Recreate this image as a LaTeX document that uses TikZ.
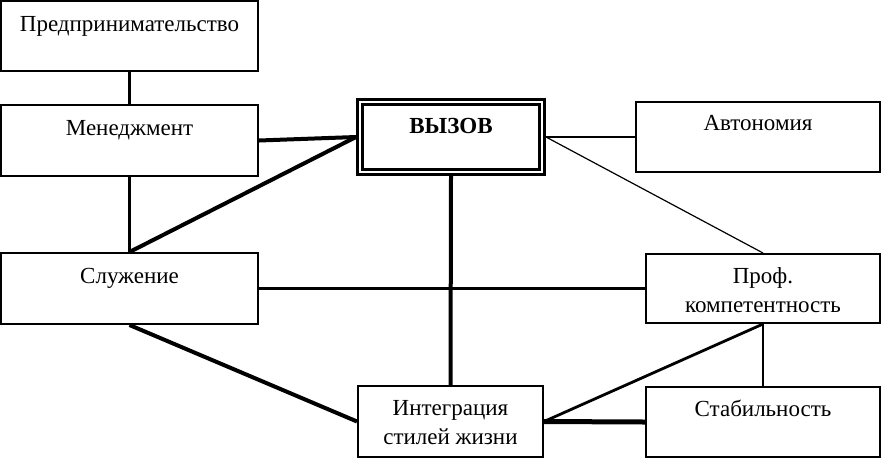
\documentclass[tikz,border=0pt]{standalone}
\usepackage{fontspec}
\setmainfont{Liberation Serif}
\begin{document}
\begin{tikzpicture}[x=1pt, y=-1pt,
        box/.style={draw, line width=2pt, inner sep=0pt, outer sep=1pt},
        txt/.style={anchor=base, inner sep=0pt, align=center},
        duenn/.style={line width=1.2pt},
        mittel/.style={line width=2.8pt},
        dick/.style={line width=4pt},
        font=\fontsize{23}{29}\selectfont]
        %Bildbereich
        \useasboundingbox (0,0) rectangle (882,459);
        % Kaesten zeichnen
        \node[box, minimum width=257, minimum height=70] (pred) at (129.5,36) {};
        \node[box, minimum width=257, minimum height=71] (men) at (129.5,140.5) {};
        \node[box, minimum width=257, minimum height=71] (slu) at (129.5,288.5) {};
        \node[box, line width=3pt, double, double distance=2pt, outer sep=4pt, minimum width=182, minimum height=70] (vyz) at (451,137) {};
        \node[box, minimum width=244, minimum height=70] (avt) at (758,137) {};
        \node[box, minimum width=234, minimum height=69] (prof) at (763,288.5) {};
        \node[box, minimum width=185, minimum height=71] (integ) at (450.5,421.5) {};
        \node[box, minimum width=234, minimum height=70] (stab) at (763,422) {};
        % Kaesten beschriften (Grundlinie der letzten Zeile)
        \node[txt] (pred-t) at (129.5,31) {Предпринимательство};
        \node[txt] (men-t) at (129.5,135) {Менеджмент};
        \node[txt] (slu-t) at (129.5,283) {Служение};
        \node[txt, font=\fontsize{23}{29}\selectfont\bfseries] (vyz-t) at (451,133) {ВЫЗОВ};
        \node[txt] (avt-t) at (758,130) {Автономия};
        \node[txt] (prof-t) at (763,312) {Проф.\\компетентность};
        \node[txt] (integ-t) at (450.5,444) {Интеграция\\стилей жизни};
        \node[txt] (stab-t) at (763,416) {Стабильность};
        % Verbindungen zeichnen
        \draw[mittel] (pred) -- (men);
        \draw[mittel] (men) -- (slu);
        \draw[dick] (men.east) -- (vyz.west);
        \draw[dick] (slu.north) -- (vyz.west);
        \draw[dick] (vyz.south) -- (integ.north);
        \draw[mittel, line width=2pt] (vyz.east) -- (avt.west);
        \draw[duenn] (vyz.east) -- (prof.north);
        \draw[dick, line width=3.5pt] (slu.east) -- (prof.west);
        \draw[dick] (slu.south) -- (integ.west);
        \draw[mittel] (prof) -- (stab);
        \draw[mittel] (prof.south) -- (integ.east);
        \draw[dick, line width=5pt] (integ.east) -- (stab.west);
    \end{tikzpicture}
\end{document}
